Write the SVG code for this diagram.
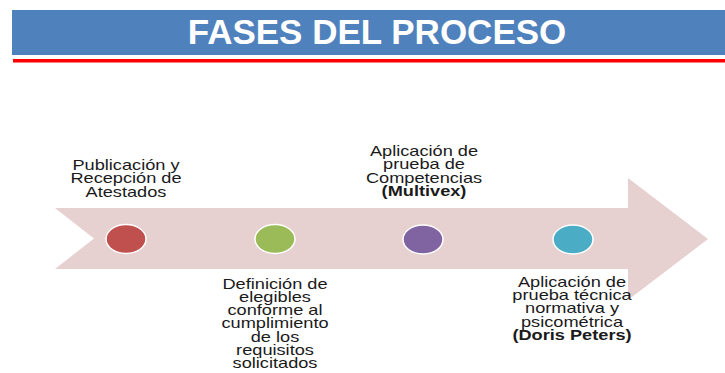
<svg xmlns="http://www.w3.org/2000/svg" width="725" height="373" viewBox="0 0 725 373">
<style>
.lbl{font-family:"Liberation Sans",Arial,sans-serif;font-size:14px;fill:#1a1a1a;text-anchor:middle}
.b{font-weight:bold}
.dot{stroke:#ffffff;stroke-width:1.5}
</style>
<rect width="725" height="373" fill="#ffffff"/>
<g id="header">
<rect x="12" y="10" width="713" height="45" fill="#4F81BD"/>
<text x="377" y="44" font-family="Liberation Sans,Arial,sans-serif" font-size="35" font-weight="bold" fill="#ffffff" text-anchor="middle">FASES DEL PROCESO</text>
<rect x="13" y="59" width="712" height="3.5" fill="#FF0000"/>
</g>
<g id="arrow">
<polygon points="55,208 628,208 628,178 708,239 628,300 628,269 55,269 94,238.5" fill="#E6D0D0"/>
</g>
<g id="connectors"></g>
<g id="phase1">
<ellipse class="dot" cx="126" cy="239" rx="20" ry="14.5" fill="#C0504D"/>
<g transform="translate(126,0) scale(1.3,1)">
<text class="lbl" x="0" y="170">Publicación y</text>
<text class="lbl" x="0" y="183.5">Recepción de</text>
<text class="lbl" x="0" y="197.5">Atestados</text>
</g>
</g>
<g id="phase2">
<ellipse class="dot" cx="275" cy="239" rx="20" ry="14.5" fill="#9BBB59"/>
<g transform="translate(275,0) scale(1.3,1)">
<text class="lbl" x="0" y="289">Definición de</text>
<text class="lbl" x="0" y="302">elegibles</text>
<text class="lbl" x="0" y="315.5">conforme al</text>
<text class="lbl" x="0" y="328.5">cumplimiento</text>
<text class="lbl" x="0" y="342">de los</text>
<text class="lbl" x="0" y="355">requisitos</text>
<text class="lbl" x="0" y="368">solicitados</text>
</g>
</g>
<g id="phase3">
<ellipse class="dot" cx="423" cy="239.5" rx="20" ry="14.5" fill="#8064A2"/>
<g transform="translate(424,0) scale(1.3,1)">
<text class="lbl" x="0" y="156.5">Aplicación de</text>
<text class="lbl" x="0" y="169.5">prueba de</text>
<text class="lbl" x="0" y="183">Competencias</text>
<text class="lbl b" x="0" y="196">(Multivex)</text>
</g>
</g>
<g id="phase4">
<ellipse class="dot" cx="573" cy="239.5" rx="20" ry="14.5" fill="#4BACC6"/>
<g transform="translate(572,0) scale(1.3,1)">
<text class="lbl" x="0" y="287">Aplicación de</text>
<text class="lbl" x="0" y="300">prueba técnica</text>
<text class="lbl" x="0" y="313.5">normativa y</text>
<text class="lbl" x="0" y="327">psicométrica</text>
<text class="lbl b" x="0" y="340.5">(Doris Peters)</text>
</g>
</g>
</svg>
